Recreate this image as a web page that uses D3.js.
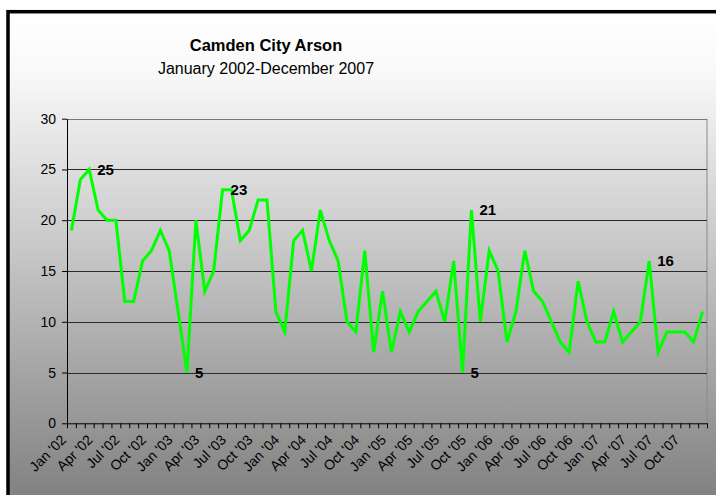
<!DOCTYPE html>
<html>
<head>
<meta charset="utf-8">
<script src="https://cdn.jsdelivr.net/npm/d3@7.9.0/dist/d3.min.js"></script>
<style>
  body { margin: 0; background: #fff; }
  svg { display: block; font-family: Arial, "Liberation Sans", sans-serif; }
</style>
</head>
<body>
<svg id="chart" width="716" height="495"></svg>
<script>
// monthly arson counts, Jan 2002 - Dec 2007
const years = ['02', '03', '04', '05', '06', '07'];
const monthNames = ['Jan', 'Feb', 'Mar', 'Apr', 'May', 'Jun', 'Jul', 'Aug', 'Sep', 'Oct', 'Nov', 'Dec'];
const arsons = [
  19, 24, 25, 21, 20, 20, 12, 12, 16, 17, 19, 17,
  11, 5, 20, 13, 15, 23, 23, 18, 19, 22, 22, 11,
  9, 18, 19, 15, 21, 18, 16, 10, 9, 17, 7, 13,
  7, 11, 9, 11, 12, 13, 10, 16, 5, 21, 10, 17,
  15, 8, 11, 17, 13, 12, 10, 8, 7, 14, 10, 8,
  8, 11, 8, 9, 10, 16, 7, 9, 9, 9, 8, 11
];
const yTicks = [0, 5, 10, 15, 20, 25, 30];
// points that carry a data label (month index)
const labelled = [2, 13, 17, 44, 45, 65];

const months = [];
years.forEach(y => monthNames.forEach(m => months.push(`${m} '${y}`)));

const svg = d3.select('#chart');
const W = 716, H = 495;
const plotL = 67, plotR = 707, plotT = 118.7, plotB = 423.3;

// background gradient
const defs = svg.append('defs');
const grad = defs.append('linearGradient')
  .attr('id', 'bg').attr('x1', 0).attr('y1', 0).attr('x2', 0).attr('y2', 1);
grad.append('stop').attr('offset', '0%').attr('stop-color', '#ffffff');
grad.append('stop').attr('offset', '12%').attr('stop-color', '#f9f9f9');
grad.append('stop').attr('offset', '100%').attr('stop-color', '#7c7c7c');

svg.append('rect')
  .attr('x', 8).attr('y', 11.7).attr('width', W + 10).attr('height', H + 10)
  .attr('fill', 'url(#bg)')
  .attr('stroke', '#000').attr('stroke-width', 3.5);

const x = d3.scaleBand().domain(d3.range(months.length)).range([plotL, plotR]).padding(0);
const xTick = d3.scaleLinear().domain([0, months.length]).range([plotL, plotR]);
const y = d3.scaleLinear().domain([0, 30]).range([plotB, plotT]);
const cx = i => x(i) + x.bandwidth() / 2;

// titles
svg.append('text')
  .attr('x', 266).attr('y', 51)
  .attr('text-anchor', 'middle')
  .style('font-size', '16.5px').style('font-weight', 'bold')
  .text('Camden City Arson');
svg.append('text')
  .attr('x', 266).attr('y', 74)
  .attr('text-anchor', 'middle')
  .style('font-size', '16px')
  .text('January 2002-December 2007');

// plot area border (right side) and gridlines
svg.append('line')
  .attr('x1', plotR).attr('x2', plotR).attr('y1', plotT).attr('y2', plotB)
  .attr('stroke', '#8a8a8a').attr('stroke-width', 1);

svg.append('g')
  .selectAll('line')
  .data(yTicks.filter(d => d > 0))
  .join('line')
  .attr('x1', plotL).attr('x2', plotR)
  .attr('y1', d => Math.round(y(d)) + 0.5).attr('y2', d => Math.round(y(d)) + 0.5)
  .attr('stroke', d => d === 30 ? '#777' : '#2a2a2a')
  .attr('stroke-width', 1.2);

// y axis
const yAxis = svg.append('g')
  .attr('transform', `translate(${plotL},0)`)
  .call(d3.axisLeft(y).tickValues(yTicks).tickSize(5).tickSizeOuter(0).tickPadding(6));
yAxis.select('.domain').attr('stroke', '#000');
yAxis.selectAll('text').style('font-size', '14px').attr('fill', '#000');

// x axis: a tick at every month boundary
const xAxis = svg.append('g')
  .attr('transform', `translate(0,${plotB})`)
  .call(d3.axisBottom(xTick).tickValues(d3.range(months.length + 1)).tickSize(5).tickSizeOuter(0).tickFormat(''));
xAxis.select('.domain').attr('stroke', '#000');

// quarterly labels, rotated
svg.append('g')
  .selectAll('text')
  .data(months.filter((d, i) => i % 3 === 0))
  .join('text')
  .attr('transform', (d, k) => `translate(${cx(k * 3) - 8},${plotB + 14}) rotate(-45)`)
  .attr('text-anchor', 'end')
  .attr('dy', '0.35em')
  .style('font-size', '14px')
  .attr('fill', '#000')
  .text(d => d);

// the line
const line = d3.line()
  .x((d, i) => cx(i))
  .y(d => y(d));

svg.append('path')
  .datum(arsons)
  .attr('d', line)
  .attr('fill', 'none')
  .attr('stroke', '#00ff00')
  .attr('stroke-width', 3)
  .attr('stroke-linejoin', 'miter');

// data labels
svg.append('g')
  .selectAll('text')
  .data(labelled)
  .join('text')
  .attr('x', i => cx(i) + 8)
  .attr('y', i => y(arsons[i]))
  .attr('dy', '0.36em')
  .style('font-size', '15px').style('font-weight', 'bold')
  .attr('fill', '#000')
  .text(i => arsons[i]);
</script>
</body>
</html>
